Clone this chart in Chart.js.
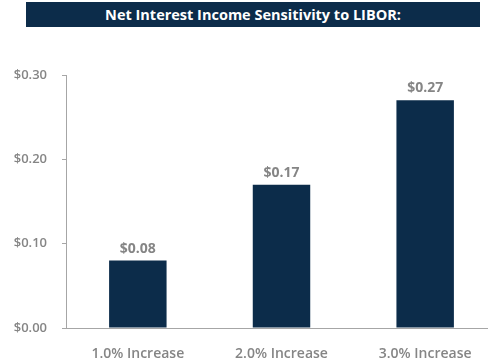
<!DOCTYPE html>
<html>
<head>
<meta charset="utf-8">
<script src="https://cdn.jsdelivr.net/npm/chart.js@4"></script>
<style>
  body { margin: 0; width: 488px; height: 358px; overflow: hidden; background: #fff; position: relative; }
  #banner {
    position: absolute; left: 26px; top: 2px; width: 454px; height: 25px;
    background: #0c2c4a; color: #fff; font: bold 14.5px "Open Sans", sans-serif;
    text-align: center; line-height: 25px;
  }
  #wrap { position: absolute; left: 0; top: 0; width: 497px; height: 358px; }
</style>
</head>
<body>
<div id="wrap"><canvas id="myChart"></canvas></div>
<div id="banner">Net Interest Income Sensitivity to LIBOR:</div>
<script>
const labels = ['1.0% Increase', '2.0% Increase', '3.0% Increase'];
const values = [0.08, 0.17, 0.27];
const yTicks = [0, 0.1, 0.2, 0.3];

const grey = '#858585';
const navy = '#0c2c4a';

// draws the $ value above each bar
const valueLabels = {
    id: 'valueLabels',
    afterDatasetsDraw(chart) {
        const c = chart.ctx;
        const meta = chart.getDatasetMeta(0);
        c.save();
        c.font = 'bold 14px "Open Sans", sans-serif';
        c.fillStyle = grey;
        c.textAlign = 'center';
        c.textBaseline = 'bottom';
        meta.data.forEach((bar, i) => {
            c.fillText('$' + values[i].toFixed(2), bar.x, bar.y - 5);
        });
        c.restore();
    }
};

new Chart(document.getElementById('myChart'), {
    type: 'bar',
    data: {
        labels: labels,
        datasets: [{
            data: values,
            backgroundColor: navy,
            categoryPercentage: 1,
            barPercentage: 0.4
        }]
    },
    options: {
        responsive: true,
        maintainAspectRatio: false,
        animation: false,
        layout: { padding: { top: 75, left: 0, right: 0, bottom: 0 } },
        plugins: {
            legend: { display: false },
            tooltip: { enabled: false }
        },
        scales: {
            x: {
                grid: { display: false },
                border: { display: true, color: '#a6a6a6', width: 1 },
                ticks: {
                    color: grey,
                    padding: 10,
                    font: { family: 'Open Sans', size: 14, weight: '600' }
                },
                afterFit: (scale) => { scale.height = 30; }
            },
            y: {
                min: 0,
                max: 0.3,
                afterBuildTicks: (scale) => { scale.ticks = yTicks.map(v => ({ value: v })); },
                grid: { drawOnChartArea: false, drawTicks: true, tickLength: 4, color: '#a6a6a6' },
                border: { display: true, color: '#a6a6a6', width: 1 },
                ticks: {
                    color: grey,
                    padding: 15,
                    font: { family: 'Open Sans', size: 13, weight: '600' },
                    callback: (v) => '$' + Number(v).toFixed(2)
                },
                afterFit: (scale) => { scale.width = 66; }
            }
        }
    },
    plugins: [valueLabels]
});
</script>
</body>
</html>
